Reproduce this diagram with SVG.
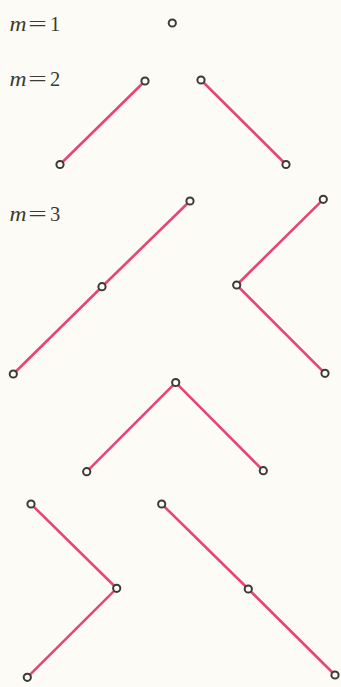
<svg xmlns="http://www.w3.org/2000/svg" width="341" height="687" viewBox="0 0 341 687">
<style>
.lbl{font-family:"Liberation Serif","DejaVu Serif",serif;font-size:20.5px;fill:#3b3a33}
.it{font-style:italic}
.edge{stroke:#e8447c;stroke-width:2.6;fill:none;stroke-linecap:round}
.node{fill:#fcfbf6;stroke:#3b3a33;stroke-width:2}
</style>
<rect width="341" height="687" fill="#fcfbf6"/>
<g id="labels">
<text class="lbl it" x="9.5" y="31" textLength="17" lengthAdjust="spacingAndGlyphs">m</text><text class="lbl" x="28.3" y="31" textLength="18.5" lengthAdjust="spacingAndGlyphs">=</text><text class="lbl" x="50" y="31">1</text>
<text class="lbl it" x="9.5" y="86" textLength="17" lengthAdjust="spacingAndGlyphs">m</text><text class="lbl" x="28.3" y="86" textLength="18.5" lengthAdjust="spacingAndGlyphs">=</text><text class="lbl" x="50" y="86">2</text>
<text class="lbl it" x="9.5" y="221" textLength="17" lengthAdjust="spacingAndGlyphs">m</text><text class="lbl" x="28.3" y="221" textLength="18.5" lengthAdjust="spacingAndGlyphs">=</text><text class="lbl" x="50" y="221">3</text>
</g>
<g id="connectors">
<line class="edge" x1="145" y1="81" x2="60" y2="164.5"/>
<line class="edge" x1="201" y1="80" x2="286" y2="164.5"/>
<polyline class="edge" points="190,201 102,286.7 13.3,374"/>
<polyline class="edge" points="323.3,199.3 236.7,285 325,373.3"/>
<polyline class="edge" points="86.7,471.7 175.7,382.5 263.3,470.7"/>
<polyline class="edge" points="31,504 116.7,588.3 27.3,677.3"/>
<polyline class="edge" points="161.7,504 248.3,589 335,675"/>
</g>
<g id="n1"><circle class="node" cx="172.3" cy="23" r="3.6"/></g>
<g id="n2a"><circle class="node" cx="145" cy="81" r="3.6"/><circle class="node" cx="60" cy="164.5" r="3.6"/></g>
<g id="n2b"><circle class="node" cx="201" cy="80" r="3.6"/><circle class="node" cx="286" cy="164.5" r="3.6"/></g>
<g id="n3a"><circle class="node" cx="190" cy="201" r="3.6"/><circle class="node" cx="102" cy="286.7" r="3.6"/><circle class="node" cx="13.3" cy="374" r="3.6"/></g>
<g id="n3b"><circle class="node" cx="323.3" cy="199.3" r="3.6"/><circle class="node" cx="236.7" cy="285" r="3.6"/><circle class="node" cx="325" cy="373.3" r="3.6"/></g>
<g id="n3c"><circle class="node" cx="86.7" cy="471.7" r="3.6"/><circle class="node" cx="175.7" cy="382.5" r="3.6"/><circle class="node" cx="263.3" cy="470.7" r="3.6"/></g>
<g id="n3d"><circle class="node" cx="31" cy="504" r="3.6"/><circle class="node" cx="116.7" cy="588.3" r="3.6"/><circle class="node" cx="27.3" cy="677.3" r="3.6"/></g>
<g id="n3e"><circle class="node" cx="161.7" cy="504" r="3.6"/><circle class="node" cx="248.3" cy="589" r="3.6"/><circle class="node" cx="335" cy="675" r="3.6"/></g>
</svg>
